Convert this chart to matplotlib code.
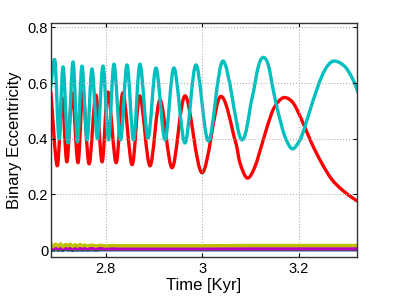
# binary eccentricity vs time, MATLAB-style figure

import numpy as np
import matplotlib
matplotlib.use("Agg")
import matplotlib.pyplot as plt
from matplotlib.path import Path
from matplotlib.patches import PathPatch
from matplotlib.ticker import FormatStrFormatter

plt.rcParams['font.family'] = ['Liberation Sans', 'DejaVu Sans']

# cyan binary (extrema, plus extra points on the slow part)
t_cyan = [2.687, 2.6954, 2.7037, 2.7120, 2.7223, 2.7327, 2.7420, 2.7513, 2.7617, 2.7720,
          2.7834, 2.7948, 2.8062, 2.8176, 2.8311, 2.8445, 2.8580, 2.8714, 2.8880, 2.9046,
          2.9232, 2.9418, 2.9646, 2.9874, 3.0133, 3.0433, 3.0805, 3.1027, 3.1164, 3.1267,
          3.1371, 3.1474, 3.1578, 3.1716, 3.1867, 3.2027, 3.2130, 3.2302, 3.2476, 3.2613,
          3.2752, 3.2959, 3.3130, 3.3222]
e_cyan = [0.593, 0.679, 0.400, 0.658, 0.385, 0.676, 0.389, 0.661, 0.396, 0.651,
          0.400, 0.661, 0.396, 0.668, 0.396, 0.665, 0.396, 0.668, 0.403, 0.654,
          0.396, 0.654, 0.385, 0.665, 0.392, 0.679, 0.399, 0.539, 0.659, 0.692,
          0.665, 0.575, 0.493, 0.408, 0.364, 0.396, 0.444, 0.539, 0.623, 0.665,
          0.679, 0.659, 0.611, 0.569]

# red binary
t_red = [2.687, 2.700, 2.710, 2.720, 2.731, 2.743, 2.753, 2.766, 2.780, 2.793,
         2.805, 2.822, 2.836, 2.855, 2.871, 2.892, 2.913, 2.938, 2.965, 3.000,
         3.037, 3.0681, 3.0785, 3.0936, 3.1095, 3.1267, 3.1441, 3.1578, 3.1716, 3.1888,
         3.2062, 3.2269, 3.2476, 3.2683, 3.2890, 3.3097, 3.3222]
e_red = [0.565, 0.303, 0.547, 0.317, 0.565, 0.314, 0.568, 0.310, 0.557, 0.317,
         0.568, 0.314, 0.565, 0.307, 0.554, 0.303, 0.539, 0.296, 0.554, 0.278,
         0.550, 0.396, 0.313, 0.259, 0.300, 0.396, 0.492, 0.533, 0.548, 0.528,
         0.468, 0.384, 0.313, 0.255, 0.218, 0.190, 0.176]

# the nearly circular ones close to zero (noisy at the start)
t_low = [2.687, 2.692, 2.697, 2.702, 2.707, 2.712, 2.717, 2.722, 2.727, 2.732,
         2.737, 2.742, 2.747, 2.752, 2.757, 2.762, 2.770, 2.780, 2.790, 2.800,
         2.815, 2.830, 2.850, 2.900, 3.000, 3.100, 3.200, 3.321]
e_yellow = [0.024, 0.013, 0.022, 0.014, 0.023, 0.012, 0.021, 0.015, 0.022, 0.013,
            0.020, 0.014, 0.021, 0.015, 0.019, 0.014, 0.019, 0.015, 0.018, 0.015,
            0.017, 0.016, 0.016, 0.016, 0.016, 0.017, 0.017, 0.017]
e_magenta = [0.006, 0.005, 0.007, 0.005, 0.006, 0.005, 0.007, 0.005, 0.006, 0.005,
             0.006, 0.005, 0.006, 0.005, 0.006, 0.005, 0.006, 0.005, 0.006, 0.005,
             0.005, 0.005, 0.005, 0.005, 0.005, 0.005, 0.005, 0.005]
e_green = [0.003, 0.001, 0.004, 0.001, 0.003, 0.001, 0.004, 0.002, 0.003, 0.001,
           0.003, 0.002, 0.003, 0.002, 0.003, 0.002, 0.003, 0.002, 0.003, 0.003,
           0.003, 0.003, 0.003, 0.003, 0.003, 0.003, 0.003, 0.003]
e_blue = [0.002, 0.000, 0.003, 0.001, 0.002, 0.000, 0.003, 0.001, 0.002, 0.000,
          0.002, 0.001, 0.002, 0.001, 0.002, 0.001, 0.002, 0.001, 0.002, 0.002,
          0.002, 0.002, 0.002, 0.002, 0.002, 0.002, 0.002, 0.002]

xticks = [2.8, 3.0, 3.2]
yticks = [0, 0.2, 0.4, 0.6, 0.8]


def smooth_line(ax, t, e, **kw):
    # draw the read points as one smooth curve (Catmull-Rom through every point)
    pts = np.column_stack([t, e])
    p = np.vstack([pts[0], pts, pts[-1]])
    verts = [pts[0]]
    codes = [Path.MOVETO]
    for i in range(1, len(p) - 2):
        c1 = p[i] + (p[i + 1] - p[i - 1]) / 6.0
        c2 = p[i + 1] - (p[i + 2] - p[i]) / 6.0
        verts += [c1, c2, p[i + 1]]
        codes += [Path.CURVE4] * 3
    patch = PathPatch(Path(verts, codes), fill=False, capstyle='round',
                      joinstyle='round', **kw)
    ax.add_patch(patch)
    return patch


fig = plt.figure(figsize=(3.95, 2.97), dpi=100)
ax = fig.add_axes([0.129, 0.135, 0.775, 0.788])

lw = 2.4
# MATLAB colour order: b, g, r, c, m, y
ax.plot(t_low, e_blue, color=(0, 0, 1), lw=lw)
ax.plot(t_low, e_green, color=(0, 0.5, 0), lw=lw)
smooth_line(ax, t_red, e_red, edgecolor=(1, 0, 0), lw=lw)
smooth_line(ax, t_cyan, e_cyan, edgecolor=(0, 0.75, 0.75), lw=lw)
ax.plot(t_low, e_magenta, color=(0.75, 0, 0.75), lw=lw)
ax.plot(t_low, e_yellow, color=(0.75, 0.75, 0), lw=lw)

ax.set_xlim(2.687, 3.321)
ax.set_ylim(-0.024, 0.816)
ax.set_xticks(xticks)
ax.set_yticks(yticks)
ax.xaxis.set_major_formatter(FormatStrFormatter('%g'))
ax.yaxis.set_major_formatter(FormatStrFormatter('%g'))

ax.grid(True, linestyle=':', color='#b0b0b0', linewidth=0.8)
ax.tick_params(direction='in', top=True, right=True, length=3, width=0.8,
               labelsize=10.5, colors='k')
ax.tick_params(axis='x', pad=4)
ax.tick_params(axis='y', pad=2)
for s in ax.spines.values():
    s.set_color('#333333')
    s.set_linewidth(1.0)

ax.set_xlabel('Time [Kyr]', fontsize=12, labelpad=1)
ax.set_ylabel('Binary Eccentricity', fontsize=12, labelpad=4)

fig.savefig('out.png', dpi=100)
